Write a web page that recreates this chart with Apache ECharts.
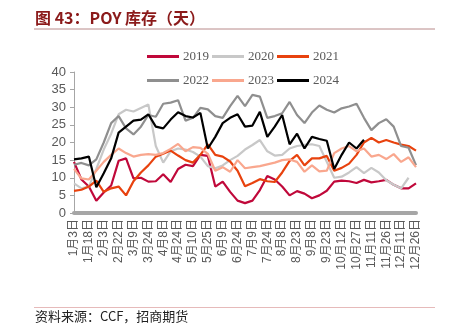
<!DOCTYPE html>
<html>
<head>
<meta charset="utf-8">
<script src="https://cdn.jsdelivr.net/npm/echarts@6/dist/echarts.min.js"></script>
<style>
html,body{margin:0;padding:0;background:#fff;}
#chart{width:451px;height:324px;}
</style>
</head>
<body>
<div id="chart"></div>
<script>
// Category dates (labels shown every other category)
const categories = [
  '1月3日','1月11日','1月18日','1月26日','2月3日','2月14日','2月22日','3月1日',
  '3月9日','3月16日','3月24日','3月31日','4月8日','4月16日','4月24日','5月2日',
  '5月10日','5月17日','5月25日','6月1日','6月9日','6月16日','6月24日','7月1日',
  '7月9日','7月16日','7月24日','7月31日','8月8日','8月15日','8月23日','8月30日',
  '9月8日','9月15日','9月23日','9月30日','10月12日','10月19日','10月27日','11月3日',
  '11月11日','11月18日','11月26日','12月3日','12月11日','12月18日','12月26日'
];
const y2019 = [14.5,9.5,7.5,3.5,5.8,7.8,14.8,15.5,9.8,10,8.9,9,11,8.8,12.5,13.7,13.3,16.5,16.2,7.5,
  8.9,6,3.5,2.8,3.5,6.5,10.5,9.5,7.5,5,6.2,5.5,4.2,5,6.3,8.9,9.2,9,8.5,9.4,8.7,9,9.4,8,7,7,8.4];
const y2020 = [8.4,7,7.5,12.5,18,22.5,28,29.3,28.8,29.8,30.8,19,14.3,17.5,18.3,18,17.3,16,13.3,12.7,
  13.5,15,16.2,18,19.3,20.7,17.5,16.3,16.5,18.3,19,19.3,19.5,19,14.5,10,10.3,11.5,13,11.3,12.8,11.5,9.3,8,7,10,null];
const y2021 = [6.3,6.6,7.5,9.2,6,7,7.5,5,9,11.5,13.5,16,16.8,17.7,16.3,15,14.3,16.5,19.5,16.5,
  16,14.6,12,7.6,8.5,9.6,9,8.8,11.5,14.8,16.5,13.5,15.5,15.5,16.2,12,12.8,14,16.5,20,21.3,20,20.7,20,19.4,19,17.7];
const y2022 = [13.7,14.2,13.5,15.2,20,25.5,27.5,24,22.3,24.5,27.8,27.3,31,31.3,32,26.2,27,29.8,29.4,27.5,
  27,30.3,33.2,30.3,33.5,33,27,27.5,28.3,31.5,27.8,25.5,28.5,30.5,29.3,28.5,29.7,30.2,31,27,23.5,25.5,26.6,24.5,19,18.5,13.6];
const y2023 = [12.5,9.8,9.5,12,14.5,16.5,18.3,17,16,16.5,16.7,16.5,17,18.2,19.6,17.5,18.7,18.5,16.8,12,
  13,11.7,15,12.7,13,13.3,13.8,14.3,15,15.2,14.5,11.7,13.5,11.8,12,17,18.3,19,17.5,18.3,16,16.5,15.3,16.7,14.5,15.8,13];
const y2024 = [15.2,15.5,16,7.3,11.3,15.5,22.8,24.5,26.2,26.5,28,24.5,24,26.5,28.6,27.5,27.1,28.4,18.3,21.6,
  25.5,27,28,24.5,24.8,28.7,21.6,24.5,27.8,19.5,22.5,18.3,21.6,21,20.5,12.5,16.5,20,18.3,20.8,
  null,null,null,null,null,null,null];
const seriesNames = ['2019','2020','2021','2022','2023','2024'];
const seriesColors = ['#C0083A','#C8C8C8','#E8420E','#8F8F8F','#F9A78E','#000000'];
const seriesData = [y2019,y2020,y2021,y2022,y2023,y2024];
const yTicks = {min:0, max:40, interval:5};

const chart = echarts.init(document.getElementById('chart'), null, {renderer:'canvas'});
const legendBase = {
  icon:'rect', itemWidth:32, itemHeight:3, itemGap:3,
  textStyle:{fontFamily:'Liberation Serif', fontSize:13, color:'#595959', padding:[0,0,0,-1]},
  left:142
};
chart.setOption({
  animation:false,
  backgroundColor:'#fff',
  legend:[
    Object.assign({}, legendBase, {top:45, data:['2019','2020','2021']}),
    Object.assign({}, legendBase, {top:69, data:['2022','2023','2024']})
  ],
  grid:{left:74, right:35, top:72, bottom:111, containLabel:false},
  xAxis:{
    type:'category', data:categories, boundaryGap:false,
    axisLine:{lineStyle:{color:'#A6A6A6', width:4}},
    axisTick:{show:false},
    axisLabel:{interval:1, rotate:90, fontSize:12, color:'#595959', fontFamily:'Liberation Sans, Noto Sans CJK SC', margin:6},
    splitLine:{show:false}
  },
  yAxis:{
    type:'value', min:yTicks.min, max:yTicks.max, interval:yTicks.interval,
    axisLine:{show:true, lineStyle:{color:'#A6A6A6', width:1}},
    axisTick:{show:true, length:4, lineStyle:{color:'#A6A6A6'}},
    axisLabel:{fontSize:13, color:'#595959', fontFamily:'Liberation Sans', margin:8},
    splitLine:{show:false}
  },
  series: seriesNames.map((n,i)=>({
    name:n, type:'line', data:seriesData[i], symbol:'none', smooth:false,
    lineStyle:{width:2.2, color:seriesColors[i]}, itemStyle:{color:seriesColors[i]},
    z: i===5 ? 10 : 2+i
  })),
  graphic:[
    {type:'text', left:35, top:10, style:{text:'图 43：POY 库存（天）', fontFamily:'Noto Sans CJK SC', fontWeight:'bold', fontSize:16, fill:'#8B1A1A'}},
    {type:'line', shape:{x1:34, y1:29, x2:435, y2:29}, style:{stroke:'#B88A8A', lineWidth:1}},
    {type:'line', shape:{x1:34, y1:307.5, x2:435, y2:307.5}, style:{stroke:'#E6BABA', lineWidth:1}},
    {type:'text', left:35, top:310, style:{text:'资料来源：CCF，招商期货', fontFamily:'Noto Sans CJK SC', fontSize:13, fill:'#222'}}
  ]
});
</script>
</body>
</html>
